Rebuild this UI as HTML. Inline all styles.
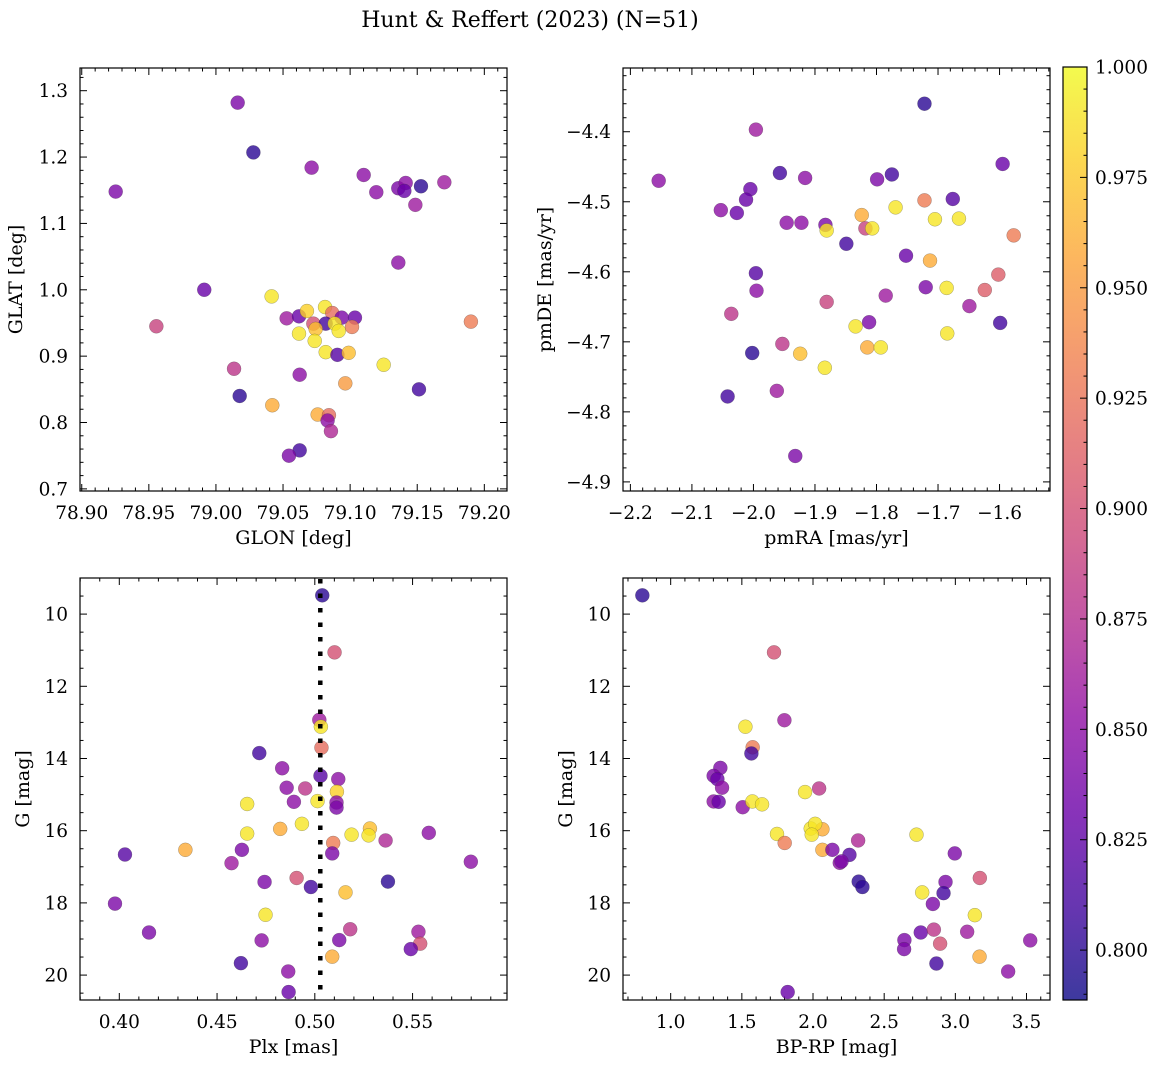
<!DOCTYPE html>
<html><head><meta charset="utf-8">
<style>
html,body{margin:0;padding:0;background:#fff;}
svg{display:block;font-family:"DejaVu Serif","Liberation Serif",serif;}
</style></head>
<body>
<svg id="fig" width="1160" height="1067" viewBox="0 0 1160 1067" xmlns="http://www.w3.org/2000/svg">
<text x="530" y="27" text-anchor="middle" font-size="22">Hunt &amp; Reffert (2023) (N=51)</text>
</svg>
<script>
// ---- Panel data ----
const p1Glon=[79.0162,79.0279,78.9253,79.0713,79.1101,79.1195,79.1359,79.1414,79.1404,79.1528,79.1702,79.1486,79.1359,78.9913,79.0415,78.9556,79.0527,79.0619,79.0678,79.0813,79.0867,79.0937,79.1036,79.0726,79.0818,79.0885,79.0743,79.1014,79.0619,79.0915,79.0736,79.0818,79.0905,79.0989,79.1250,79.0135,79.0624,79.0964,79.1513,79.0177,79.0420,79.0758,79.0842,79.0832,79.0857,79.0624,79.0544,79.1900];
const p1Glat=[1.282,1.207,1.148,1.184,1.173,1.147,1.153,1.161,1.149,1.156,1.162,1.128,1.041,1.000,0.990,0.945,0.957,0.960,0.968,0.974,0.965,0.958,0.958,0.949,0.949,0.949,0.941,0.944,0.934,0.938,0.923,0.906,0.902,0.905,0.887,0.881,0.872,0.859,0.850,0.840,0.826,0.812,0.811,0.803,0.787,0.758,0.750,0.952];
const p1Prob=[0.84,0.80,0.84,0.85,0.85,0.85,0.84,0.85,0.83,0.80,0.86,0.86,0.85,0.83,0.99,0.89,0.86,0.83,0.98,0.99,0.92,0.84,0.83,0.90,0.81,0.99,0.97,0.93,0.99,0.99,0.99,0.99,0.82,0.97,0.99,0.88,0.85,0.95,0.81,0.80,0.96,0.96,0.92,0.85,0.87,0.81,0.84,0.93];

const p2PmRA=[-1.722,-1.996,-2.154,-1.957,-1.916,-1.799,-1.775,-1.595,-2.005,-2.012,-2.053,-2.027,-1.722,-1.676,-1.769,-1.824,-1.705,-1.666,-1.946,-1.922,-1.883,-1.881,-1.818,-1.807,-1.577,-1.849,-1.752,-1.713,-1.996,-1.602,-1.995,-1.720,-1.686,-1.624,-1.881,-1.785,-1.649,-2.036,-1.834,-1.812,-1.599,-1.685,-1.953,-2.002,-1.924,-1.815,-1.793,-1.884,-2.042,-1.962,-1.932];
const p2PmDE=[-4.360,-4.397,-4.470,-4.459,-4.466,-4.468,-4.461,-4.446,-4.482,-4.497,-4.512,-4.516,-4.498,-4.496,-4.508,-4.519,-4.525,-4.524,-4.530,-4.530,-4.533,-4.541,-4.538,-4.538,-4.548,-4.560,-4.577,-4.584,-4.602,-4.604,-4.627,-4.622,-4.623,-4.626,-4.643,-4.634,-4.649,-4.660,-4.678,-4.672,-4.673,-4.688,-4.703,-4.716,-4.717,-4.708,-4.708,-4.737,-4.778,-4.770,-4.863];
const p2Prob=[0.80,0.86,0.85,0.81,0.85,0.84,0.81,0.83,0.83,0.83,0.85,0.83,0.93,0.82,0.99,0.96,0.99,0.99,0.85,0.85,0.84,0.99,0.89,0.99,0.93,0.81,0.83,0.96,0.82,0.91,0.85,0.84,0.99,0.91,0.89,0.86,0.86,0.88,0.99,0.84,0.81,0.99,0.88,0.80,0.97,0.96,0.99,0.99,0.81,0.86,0.84];

const p3Plx=[0.5038,0.5101,0.5023,0.5031,0.5034,0.4716,0.4833,0.5029,0.5120,0.4856,0.4951,0.5113,0.4654,0.4893,0.5014,0.5111,0.5111,0.4934,0.4654,0.4823,0.5282,0.5188,0.5275,0.5362,0.5583,0.5094,0.4338,0.4029,0.4627,0.5089,0.4574,0.5798,0.4743,0.4907,0.4980,0.5374,0.5157,0.3978,0.4748,0.4152,0.5181,0.5530,0.4728,0.5125,0.5539,0.5491,0.5089,0.4622,0.4864,0.4866];
const p3G=[9.48,11.06,12.93,13.12,13.70,13.85,14.27,14.48,14.57,14.81,14.83,14.92,15.26,15.20,15.18,15.22,15.36,15.81,16.08,15.95,15.94,16.11,16.13,16.27,16.06,16.34,16.53,16.66,16.53,16.63,16.90,16.86,17.42,17.31,17.56,17.41,17.71,18.02,18.33,18.82,18.73,18.80,19.04,19.03,19.13,19.28,19.49,19.67,19.90,20.47];
const p3Prob=[0.80,0.90,0.86,0.99,0.92,0.81,0.85,0.82,0.85,0.85,0.88,0.98,0.99,0.85,0.99,0.85,0.84,0.99,0.99,0.96,0.97,0.99,0.99,0.87,0.85,0.93,0.96,0.82,0.84,0.84,0.86,0.85,0.84,0.90,0.81,0.80,0.97,0.84,0.99,0.84,0.88,0.86,0.85,0.84,0.90,0.83,0.96,0.81,0.85,0.83];
const plxLine=0.5028;

const p4BpRp=[0.801,1.726,1.799,1.525,1.576,1.567,1.349,1.302,1.328,1.361,1.944,2.043,1.302,1.337,1.506,1.574,1.642,1.747,1.801,1.984,2.066,2.015,1.991,2.066,2.136,2.256,2.188,2.200,2.317,2.321,2.347,2.727,2.996,2.767,2.931,2.917,3.172,2.842,3.137,2.757,2.849,3.083,2.642,2.640,2.893,3.526,3.170,2.867,3.371,1.822];
const p4G=[9.48,11.06,12.94,13.12,13.69,13.86,14.26,14.48,14.57,14.81,14.93,14.83,15.19,15.20,15.35,15.19,15.27,16.09,16.34,15.94,15.96,15.81,16.11,16.53,16.53,16.67,16.89,16.85,16.27,17.41,17.56,16.11,16.63,17.71,17.42,17.73,17.31,18.03,18.34,18.82,18.74,18.80,19.03,19.28,19.13,19.04,19.49,19.68,19.90,20.47];
const p4Prob=[0.80,0.90,0.86,0.99,0.93,0.81,0.84,0.84,0.83,0.85,0.99,0.88,0.85,0.83,0.85,0.99,0.99,0.99,0.93,0.99,0.96,0.99,0.99,0.96,0.84,0.82,0.85,0.84,0.87,0.80,0.80,0.99,0.84,0.99,0.84,0.81,0.90,0.84,0.99,0.83,0.88,0.86,0.84,0.84,0.90,0.85,0.96,0.81,0.85,0.83];

const p1XTicks=[78.90,78.95,79.00,79.05,79.10,79.15,79.20];
const p1YTicks=[0.7,0.8,0.9,1.0,1.1,1.2,1.3];
const p2XTicks=[-2.2,-2.1,-2.0,-1.9,-1.8,-1.7,-1.6];
const p2YTicks=[-4.9,-4.8,-4.7,-4.6,-4.5,-4.4];
const p3XTicks=[0.40,0.45,0.50,0.55];
const gTicks=[10,12,14,16,18,20];
const p4XTicks=[1.0,1.5,2.0,2.5,3.0,3.5];
const cbTicks=[0.800,0.825,0.850,0.875,0.900,0.925,0.950,0.975,1.000];

const VMIN=0.7887, VMAX=1.0;
const NS='http://www.w3.org/2000/svg';
const svg=document.getElementById('fig');
const TFS=18.5, LFS=19;

const plasma=['#0d0887','#41049d','#6a00a8','#8f0da4','#b12a90','#cc4778','#e16462','#f2844b','#fca636','#fcce25','#f0f921'];
function hx(c){return [parseInt(c.slice(1,3),16),parseInt(c.slice(3,5),16),parseInt(c.slice(5,7),16)];}
function cmap(p){
  let t=(p-VMIN)/(VMAX-VMIN); t=Math.max(0,Math.min(1,t));
  const f=t*10, i=Math.min(9,Math.floor(f)), r=f-i;
  const a=hx(plasma[i]), b=hx(plasma[i+1]);
  return 'rgb('+a.map((v,k)=>Math.round(v+(b[k]-v)*r)).join(',')+')';
}
function mk(tag,attrs,parent){const e=document.createElementNS(NS,tag);for(const k in attrs)e.setAttribute(k,attrs[k]);(parent||svg).appendChild(e);return e;}

function panel(cfg){
  const g=mk('g',{});
  
  
  const {x0,x1,y0,y1}=cfg;
  const sx=v=>x0+(v-cfg.xd[0])/(cfg.xd[1]-cfg.xd[0])*(x1-x0);
  const sy=v=>cfg.yinv? y0+(v-cfg.yd[0])/(cfg.yd[1]-cfg.yd[0])*(y1-y0) : y1-(v-cfg.yd[0])/(cfg.yd[1]-cfg.yd[0])*(y1-y0);
  const tg=mk('g',{stroke:'#000','stroke-width':1},g);
  
  
  const lo=Math.min(...cfg.xd), hi=Math.max(...cfg.xd);
  for(let v=Math.ceil(lo/cfg.xm-1e-6)*cfg.xm; v<=hi+1e-9; v+=cfg.xm){
    const X=sx(v); const isMaj=cfg.xt.some(t=>Math.abs(t-v)<cfg.xm/10); const L=isMaj?7:3.5;
    mk('line',{x1:X,x2:X,y1:y1,y2:y1-L},tg); mk('line',{x1:X,x2:X,y1:y0,y2:y0+L},tg);
  }
  const ylo=Math.min(...cfg.yd), yhi=Math.max(...cfg.yd);
  for(let v=Math.ceil(ylo/cfg.ym-1e-6)*cfg.ym; v<=yhi+1e-9; v+=cfg.ym){
    const Y=sy(v); const isMaj=cfg.yt.some(t=>Math.abs(t-v)<cfg.ym/10); const L=isMaj?7:3.5;
    mk('line',{x1:x0,x2:x0+L,y1:Y,y2:Y},tg); mk('line',{x1:x1,x2:x1-L,y1:Y,y2:Y},tg);
  }
  cfg.xt.forEach(v=>{
    const t=mk('text',{x:sx(v),y:y1+28,'text-anchor':'middle','font-size':TFS},g);
    t.textContent=(v<0?'\u2212':'')+Math.abs(v).toFixed(cfg.xdec);
    
    
  });
  cfg.yt.forEach(v=>{
    const t=mk('text',{x:x0-12,y:sy(v)+6.5,'text-anchor':'end','font-size':TFS},g);
    t.textContent=(v<0?'\u2212':'')+Math.abs(v).toFixed(cfg.ydec);
    
    
  });
  const xl=mk('text',{x:(x0+x1)/2,y:y1+53,'text-anchor':'middle','font-size':LFS},g);
  xl.textContent=cfg.xlab;
  
  
  const yx=cfg.ylabX, yc=(y0+y1)/2;
  const yl=mk('text',{x:yx,y:yc,'text-anchor':'middle','font-size':LFS,transform:'rotate(-90 '+yx+' '+yc+')'},g);
  yl.textContent=cfg.ylab;
  
  
  const cid='clip'+cfg.name;
  const cp=mk('clipPath',{id:cid},g); mk('rect',{x:x0,y:y0,width:x1-x0,height:y1-y0},cp);
  const pg=mk('g',{'clip-path':'url(#'+cid+')'},g);
  
  
  cfg.xs.forEach((xv,i)=>{
    const c=mk('circle',{cx:sx(xv),cy:sy(cfg.ys[i]),r:7,fill:cmap(cfg.ps[i]),'fill-opacity':0.8,stroke:'rgba(60,60,60,0.45)','stroke-width':0.5},pg);
    
    
  });
  if(cfg.vline!==undefined){
    const l=mk('line',{x1:sx(cfg.vline),x2:sx(cfg.vline),y1:y0,y2:y1,stroke:'#000','stroke-width':4.5,'stroke-dasharray':'4.5 10'},pg);
    
    
  }
  const fr=mk('rect',{x:x0,y:y0,width:x1-x0,height:y1-y0,fill:'none',stroke:'#000','stroke-width':1.2},g);
  
  
}

panel({name:'glon-glat-panel',x0:80,x1:507,y0:68,y1:491,xd:[78.8987,79.2169],yd:[0.6968,1.3342],xs:p1Glon,ys:p1Glat,ps:p1Prob,xt:p1XTicks,yt:p1YTicks,xm:0.01,ym:0.02,xdec:2,ydec:1,xlab:'GLON [deg]',ylab:'GLAT [deg]',ylabX:22});
panel({name:'propermotion-panel',x0:623,x1:1050,y0:68,y1:491,xd:[-2.212,-1.518],yd:[-4.913,-4.309],xs:p2PmRA,ys:p2PmDE,ps:p2Prob,xt:p2XTicks,yt:p2YTicks,xm:0.02,ym:0.02,xdec:1,ydec:1,xlab:'pmRA [mas/yr]',ylab:'pmDE [mas/yr]',ylabX:551});
panel({name:'parallax-magnitude-panel',x0:80,x1:507,y0:578,y1:1000,xd:[0.3799,0.5983],yd:[9.0,20.69],yinv:true,xs:p3Plx,ys:p3G,ps:p3Prob,xt:p3XTicks,yt:gTicks,xm:0.01,ym:0.5,xdec:2,ydec:0,xlab:'Plx [mas]',ylab:'G [mag]',ylabX:29});
panel({name:'color-magnitude-panel',x0:623,x1:1050,y0:578,y1:1000,xd:[0.665,3.665],yd:[9.0,20.69],yinv:true,xs:p4BpRp,ys:p4G,ps:p4Prob,xt:p4XTicks,yt:gTicks,xm:0.1,ym:0.5,xdec:1,ydec:0,xlab:'BP-RP [mag]',ylab:'G [mag]',ylabX:572});
</script>
<script>
// add parallax line to panel 3 (drawn separately using axis function)
(function(){
  const x0=80,x1=507,y0=578,y1=1000,d0=0.3799,d1=0.5983;
  const X=x0+(plxLine-d0)/(d1-d0)*(x1-x0);
  const l=mk('line',{x1:X,x2:X,y1:y0+1,y2:y1-1,stroke:'#000','stroke-width':4.5,'stroke-dasharray':'4.5 10'});
  
  
})();
// ---- colorbar ----
(function(){
  const cx0=1063,cx1=1087,cy0=67,cy1=1000;
  const cy=v=>cy1-(v-VMIN)/(VMAX-VMIN)*(cy1-cy0);
  const defs=mk('defs',{});
  const lg=mk('linearGradient',{id:'cbgrad',x1:0,y1:1,x2:0,y2:0},defs);
  for(let i=0;i<=40;i++){const t=i/40; mk('stop',{offset:t,'stop-color':cmap(VMIN+t*(VMAX-VMIN)),'stop-opacity':0.8},lg);}
  const g=mk('g',{});
  
  
  mk('rect',{x:cx0,y:cy0,width:cx1-cx0,height:cy1-cy0,fill:'url(#cbgrad)'},g);
  for(let v=0.790;v<=1.0001;v+=0.005){
    const Y=cy(v); const maj=cbTicks.some(t=>Math.abs(t-v)<0.001);
    mk('line',{x1:cx1,x2:cx1-(maj?7:3.5),y1:Y,y2:Y,stroke:'#000','stroke-width':1},g);
  }
  cbTicks.forEach(v=>{
    const t=mk('text',{x:cx1+8,y:cy(v)+6.5,'font-size':TFS},g);
    t.textContent=v.toFixed(3);
    
    
  });
  const fr=mk('rect',{x:cx0,y:cy0,width:cx1-cx0,height:cy1-cy0,fill:'none',stroke:'#000','stroke-width':1.2},g);
  
  
})();
</script>
</body></html>
